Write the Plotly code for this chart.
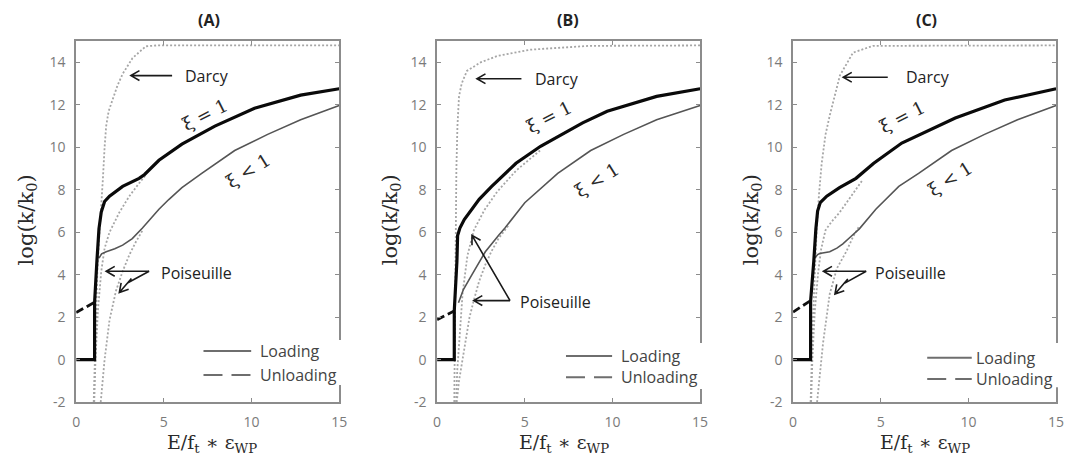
import math
import plotly.graph_objects as go

# ---------------- data ----------------
x_range = [0, 15]
y_range = [-2, 15]
ytick_vals = [-2, 0, 2, 4, 6, 8, 10, 12, 14]
ytick_text = ["-2", "0", "2", "4", "6", "8", "10", "12", "14"]
xtick_vals = [0, 5, 10, 15]
xtick_text = ["0", "5", "10", "15"]
panel_titles = ["(A)", "(B)", "(C)"]

# Panel A
A_xi1_x = [0, 1.05, 1.05, 1.1, 1.18, 1.3, 1.43, 1.62, 1.9, 2.65, 3.59, 3.9, 4.34, 4.72, 6.03, 7.91, 10.17, 12.8, 15.0]
A_xi1_y = [0, 0, 2.7, 3.6, 4.62, 6.17, 6.95, 7.45, 7.7, 8.16, 8.54, 8.72, 9.08, 9.39, 10.15, 11.0, 11.84, 12.46, 12.76]
A_xilt_x = [1.3, 1.45, 1.71, 2.2, 2.65, 3.2, 3.78, 4.72, 5.28, 6.03, 7.16, 9.04, 10.92, 12.8, 15.0]
A_xilt_y = [4.78, 4.98, 5.08, 5.22, 5.39, 5.7, 6.2, 7.08, 7.54, 8.1, 8.77, 9.85, 10.61, 11.3, 11.97]
A_unl_x = [0, 1.05]
A_unl_y = [2.22, 2.7]
A_darcy_x = [1.0, 1.06, 1.12, 1.2, 1.3, 1.42, 1.52, 1.62, 1.71, 1.85, 2.09, 2.35, 2.65, 3.21, 3.97, 4.6, 15.0]
A_darcy_y = [-2, 0, 2, 4, 5.6, 7.0, 8.47, 10.0, 11.0, 11.7, 12.23, 12.9, 13.46, 14.2, 14.76, 14.8, 14.8]
A_pois1_x = [1.03, 1.1, 1.24, 1.43, 1.62, 1.9, 2.46, 3.03, 3.59, 3.97]
A_pois1_y = [-2, 0, 2.32, 4.16, 5.24, 6.0, 6.93, 7.7, 8.31, 8.7]
A_pois2_x = [1.4, 1.62, 1.9, 2.27, 2.65, 3.03, 3.4, 3.78]
A_pois2_y = [-2, 0, 1.86, 3.24, 4.16, 4.93, 5.54, 6.08]

# Panel B
B_xi1_x = [0, 0.98, 0.98, 1.06, 1.13, 1.17, 1.3, 1.55, 1.92, 2.4, 3.1, 4.5, 5.9, 6.88, 8.3, 9.7, 12.52, 15.0]
B_xi1_y = [0, 0, 2.3, 3.5, 4.62, 5.85, 6.2, 6.6, 7.0, 7.55, 8.15, 9.25, 10.05, 10.5, 11.15, 11.7, 12.4, 12.76]
B_xilt_x = [1.22, 1.5, 1.99, 2.75, 3.5, 3.87, 5.0, 6.88, 8.76, 10.64, 12.52, 15.0]
B_xilt_y = [2.68, 3.3, 4.0, 5.08, 5.85, 6.2, 7.39, 8.77, 9.85, 10.61, 11.3, 11.97]
B_unl_x = [0, 1.0]
B_unl_y = [1.88, 2.3]
B_darcy_x = [0.98, 1.0, 1.03, 1.06, 1.1, 1.16, 1.25, 1.4, 1.7, 2.48, 3.42, 5.3, 8.7, 15.0]
B_darcy_y = [-2, 0, 3, 6, 9, 11, 12.4, 13.0, 13.6, 14.0, 14.3, 14.6, 14.78, 14.8]
B_pois1_x = [1.08, 1.15, 1.26, 1.45, 1.73, 2.1, 2.7, 3.42, 4.5, 5.87]
B_pois1_y = [-2, -0.5, 0.78, 3.09, 4.9, 6.1, 7.05, 7.9, 8.9, 9.85]
B_pois2_x = [1.12, 1.25, 1.45, 1.62, 1.85, 2.09, 2.4, 2.75, 3.1, 3.5, 4.06]
B_pois2_y = [-2, -1, 0, 0.94, 2.0, 2.78, 3.7, 4.47, 5.1, 5.7, 6.31]

# Panel C
C_xi1_x = [0, 1.0, 1.0, 1.1, 1.18, 1.3, 1.4, 1.55, 1.92, 2.65, 3.59, 4.6, 6.2, 9.25, 12.07, 15.0]
C_xi1_y = [0, 0, 2.75, 3.6, 4.62, 6.16, 7.0, 7.4, 7.7, 8.1, 8.54, 9.25, 10.2, 11.38, 12.23, 12.76]
C_xilt_x = [1.24, 1.4, 1.52, 1.8, 2.09, 2.5, 2.84, 3.3, 3.78, 4.72, 6.03, 7.16, 9.04, 10.92, 12.8, 15.0]
C_xilt_y = [4.78, 4.95, 5.0, 5.05, 5.08, 5.25, 5.45, 5.8, 6.16, 7.08, 8.16, 8.77, 9.85, 10.61, 11.3, 11.97]
C_unl_x = [0, 1.0]
C_unl_y = [2.24, 2.78]
C_darcy_x = [1.0, 1.06, 1.14, 1.24, 1.35, 1.48, 1.63, 1.85, 2.1, 2.67, 3.42, 4.55, 15.0]
C_darcy_y = [-2, 0, 2, 4, 6.16, 7.8, 9.23, 10.6, 11.53, 13.38, 14.46, 14.78, 14.8]
C_pois1_x = [1.03, 1.1, 1.24, 1.43, 1.6, 1.85, 2.2, 2.65, 3.1, 3.59, 3.97]
C_pois1_y = [-2, 0, 2.3, 4.1, 5.2, 6.1, 6.5, 6.93, 7.45, 8.0, 8.47]
C_pois2_x = [1.37, 1.5, 1.71, 2.09, 2.5, 3.03, 3.4, 3.78]
C_pois2_y = [-2, -0.8, 0.78, 3.09, 4.3, 5.08, 5.75, 6.3]

panels = [
    dict(xi1=(A_xi1_x, A_xi1_y), xilt=(A_xilt_x, A_xilt_y), unl=(A_unl_x, A_unl_y),
         dotted=[(A_darcy_x, A_darcy_y), (A_pois1_x, A_pois1_y), (A_pois2_x, A_pois2_y)]),
    dict(xi1=(B_xi1_x, B_xi1_y), xilt=(B_xilt_x, B_xilt_y), unl=(B_unl_x, B_unl_y),
         dotted=[(B_darcy_x, B_darcy_y), (B_pois1_x, B_pois1_y), (B_pois2_x, B_pois2_y)]),
    dict(xi1=(C_xi1_x, C_xi1_y), xilt=(C_xilt_x, C_xilt_y), unl=(C_unl_x, C_unl_y),
         dotted=[(C_darcy_x, C_darcy_y), (C_pois1_x, C_pois1_y), (C_pois2_x, C_pois2_y)]),
]

# ---------------- layout geometry ----------------
W, H = 1072, 464
x_px = [(73, 339), (438, 704), (798, 1064)]
y_px = (42, 410)
SX = (x_px[0][1] - x_px[0][0]) / 15.0
SY = (y_px[1] - y_px[0]) / 17.0

# annotation placement per panel (data coords)
darcy = [dict(tail=(5.47, 13.38), tip=(3.12, 13.38), text=(6.1, 13.38)),
         dict(tail=(4.81, 13.23), tip=(2.27, 13.23), text=(5.47, 13.23)),
         dict(tail=(5.4, 13.3), tip=(2.86, 13.3), text=(6.3, 13.3))]
pois = [dict(arrows=[[(4.16, 4.16), (1.71, 4.16)],
                     [(4.16, 4.16), (2.95, 3.62), (3.15, 3.82), (2.46, 3.16)]],
             text=(4.72, 4.1)),
        dict(arrows=[[(4.16, 2.78), (2.09, 2.78)],
                     [(4.16, 2.78), (1.99, 5.85)]],
             text=(4.62, 2.72)),
        dict(arrows=[[(4.17, 4.16), (1.73, 4.16)],
                     [(4.17, 4.16), (2.95, 3.6), (3.12, 3.8), (2.39, 3.09)]],
             text=(4.56, 4.1))]
xi_lbl = [dict(eq=(7.35, 11.53, -27), lt=(9.8, 8.92, -32)),
          dict(eq=(6.41, 11.46, -27), lt=(9.14, 8.47, -32)),
          dict(eq=(6.24, 11.46, -27), lt=(8.97, 8.54, -32))]
leg = [dict(yl=0.4, yu=-0.72, x0=7.26, x1=9.98, xt=10.36, gap=(-1.2, 0.92)),
       dict(yl=0.17, yu=-0.83, x0=7.35, x1=9.98, xt=10.36, gap=(-1.38, 0.78)),
       dict(yl=0.09, yu=-0.91, x0=7.65, x1=10.19, xt=10.34, gap=(-1.3, 0.78))]
ylab_x = [23, 391, 756]
xlab_x = [210, 566, 931]
title_x = [207, 570, 933]


def arrow_path(pts, head_len=10, head_ang=30):
    s = "M " + " L ".join(f"{x:.4f},{y:.4f}" for x, y in pts)
    (x1, y1), (x2, y2) = pts[-2], pts[-1]
    dx, dy = (x1 - x2) * SX, (y1 - y2) * SY
    n = math.hypot(dx, dy)
    ux, uy = dx / n, dy / n
    hs = []
    for sg in (1, -1):
        a = math.radians(head_ang) * sg
        rx = ux * math.cos(a) - uy * math.sin(a)
        ry = ux * math.sin(a) + uy * math.cos(a)
        hs.append((x2 + rx * head_len / SX, y2 + ry * head_len / SY))
    s += f" M {hs[0][0]:.4f},{hs[0][1]:.4f} L {x2:.4f},{y2:.4f} L {hs[1][0]:.4f},{hs[1][1]:.4f}"
    return s


fig = go.Figure()
shapes = []
annotations = []
SANS = "Open Sans, Lato, sans-serif"
SERIF = "DejaVu Serif, Liberation Serif, serif"

for i, p in enumerate(panels):
    sfx = "" if i == 0 else str(i + 1)
    xa, ya = "x" + sfx, "y" + sfx
    for dx, dy in p["dotted"]:
        fig.add_trace(go.Scatter(x=dx, y=dy, mode="lines", xaxis=xa, yaxis=ya, showlegend=False,
                                 line=dict(color="#a6a6a6", width=1.8, dash="2px,2px")))
    fig.add_trace(go.Scatter(x=p["xilt"][0], y=p["xilt"][1], mode="lines", xaxis=xa, yaxis=ya,
                             showlegend=False, line=dict(color="#555555", width=1.6)))
    fig.add_trace(go.Scatter(x=p["unl"][0], y=p["unl"][1], mode="lines", xaxis=xa, yaxis=ya,
                             showlegend=False, line=dict(color="#111111", width=2.8, dash="8px,4px")))
    fig.add_trace(go.Scatter(x=p["xi1"][0], y=p["xi1"][1], mode="lines", xaxis=xa, yaxis=ya,
                             showlegend=False, line=dict(color="#0a0a0a", width=3.2)))

    x0f, x1f = x_px[i][0] / W, x_px[i][1] / W
    axis_common = dict(showline=True, mirror="ticks", linecolor="#8c8c8c", linewidth=1.6,
                       ticks="inside", ticklen=4, tickcolor="#8c8c8c", tickwidth=1.2,
                       showgrid=False, zeroline=False,
                       tickfont=dict(family=SANS, size=14, color="#7a7a7a"))
    fig.update_layout(**{
        ("xaxis" + sfx): dict(domain=[x0f, x1f], range=x_range, anchor=ya,
                              tickvals=xtick_vals, ticktext=xtick_text, ticklabelstandoff=6,
                              **axis_common),
        ("yaxis" + sfx): dict(domain=[1 - y_px[1] / H, 1 - y_px[0] / H], range=y_range, anchor=xa,
                              tickvals=ytick_vals, ticktext=ytick_text, ticklabelstandoff=6,
                              **axis_common),
    })

    # Darcy arrow + label
    d = darcy[i]
    shapes.append(dict(type="path", xref=xa, yref=ya, path=arrow_path([d["tail"], d["tip"]]),
                       line=dict(color="#1a1a1a", width=1.6)))
    annotations.append(dict(x=d["text"][0], y=d["text"][1], xref=xa, yref=ya, text="Darcy",
                            showarrow=False, xanchor="left", yanchor="middle",
                            font=dict(family=SANS, size=16, color="#222222")))
    # Poiseuille arrows + label
    po = pois[i]
    for pts in po["arrows"]:
        shapes.append(dict(type="path", xref=xa, yref=ya, path=arrow_path(pts),
                           line=dict(color="#1a1a1a", width=1.6)))
    annotations.append(dict(x=po["text"][0], y=po["text"][1], xref=xa, yref=ya, text="Poiseuille",
                            showarrow=False, xanchor="left", yanchor="middle",
                            font=dict(family=SANS, size=16, color="#222222")))
    # xi labels
    xl = xi_lbl[i]
    annotations.append(dict(x=xl["eq"][0], y=xl["eq"][1], xref=xa, yref=ya, text="ξ = 1",
                            showarrow=False, textangle=xl["eq"][2],
                            font=dict(family=SERIF, size=18, color="#2a2a2a")))
    annotations.append(dict(x=xl["lt"][0], y=xl["lt"][1], xref=xa, yref=ya, text="ξ < 1",
                            showarrow=False, textangle=xl["lt"][2],
                            font=dict(family=SERIF, size=18, color="#2a2a2a")))
    # legend box (covers part of right spine)
    lg = leg[i]
    shapes.append(dict(type="rect", xref=xa + " domain", yref=ya + " domain",
                       x0=(lg["x0"] - 0.4) / 15.0, x1=1.03,
                       y0=(lg["gap"][0] + 2) / 17.0, y1=(lg["gap"][1] + 2) / 17.0,
                       fillcolor="white", line=dict(width=0), layer="above"))
    shapes.append(dict(type="line", xref=xa, yref=ya, x0=lg["x0"], x1=lg["x1"], y0=lg["yl"], y1=lg["yl"],
                       line=dict(color="#6e6e6e", width=2), layer="above"))
    shapes.append(dict(type="line", xref=xa, yref=ya, x0=lg["x0"], x1=lg["x1"], y0=lg["yu"], y1=lg["yu"],
                       line=dict(color="#6e6e6e", width=2, dash="19px,9px"), layer="above"))
    annotations.append(dict(x=lg["xt"], y=lg["yl"], xref=xa, yref=ya, text="Loading", showarrow=False,
                            xanchor="left", yanchor="middle",
                            font=dict(family=SANS, size=16, color="#444444")))
    annotations.append(dict(x=lg["xt"], y=lg["yu"], xref=xa, yref=ya, text="Unloading", showarrow=False,
                            xanchor="left", yanchor="middle",
                            font=dict(family=SANS, size=16, color="#444444")))
    # axis titles & panel title
    annotations.append(dict(x=ylab_x[i] / W, y=1 - 224 / H, xref="paper", yref="paper",
                            text="log(k/k<sub>0</sub>)", textangle=-90, showarrow=False,
                            xanchor="center", yanchor="middle",
                            font=dict(family=SERIF, size=21, color="#2a2a2a")))
    annotations.append(dict(x=xlab_x[i] / W, y=1 - 452 / H, xref="paper", yref="paper",
                            text="E/f<sub>t</sub> ∗ ε<sub>WP</sub>", showarrow=False,
                            xanchor="center", yanchor="middle",
                            font=dict(family=SERIF, size=19, color="#2a2a2a")))
    annotations.append(dict(x=title_x[i] / W, y=1 - 20 / H, xref="paper", yref="paper",
                            text="<b>" + panel_titles[i] + "</b>", showarrow=False,
                            xanchor="center", yanchor="middle",
                            font=dict(family=SANS, size=16, color="#222222")))

fig.update_layout(width=W, height=H, margin=dict(l=0, r=0, t=0, b=0),
                  paper_bgcolor="white", plot_bgcolor="white",
                  shapes=shapes, annotations=annotations, showlegend=False)

fig.write_html("out.html", config={"displayModeBar": False},
               post_script="document.body.style.margin='0';document.body.style.overflow='hidden';")
